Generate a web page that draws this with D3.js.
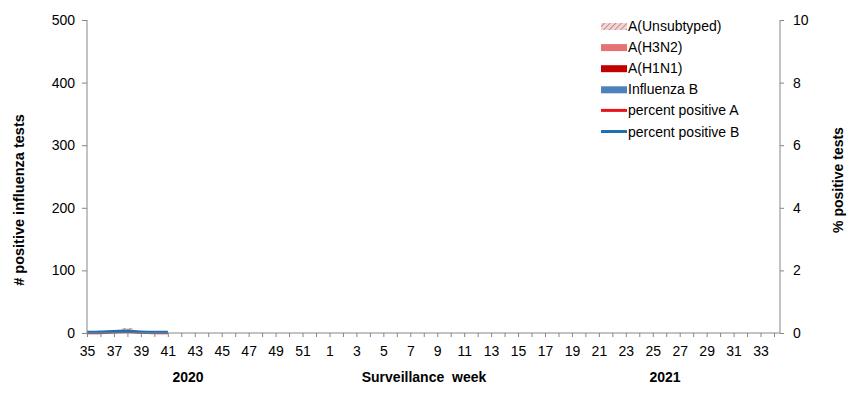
<!DOCTYPE html>
<html lang="en">
<head>
<meta charset="UTF-8">
<script src="https://d3js.org/d3.v7.min.js"></script>
<title>Influenza surveillance</title>
<style>
  body { margin: 0; background: #fff; }
  text { font-family: "Liberation Sans", Arial, sans-serif; fill: #000; }
  .axis path, .axis line { stroke: #868686; }
  .bold { font-weight: bold; }
</style>
</head>
<body>
<svg width="859" height="397"></svg>
<script>
// surveillance weeks 2020 w35 .. 2021 w34
var weeks = d3.range(35, 53).concat(d3.range(1, 35));
// counts per week (only first weeks reported)
var unsubtyped = [0, 0, 0, 8, 0, 0, 0];
var h3n2 = [0, 0, 0, 0, 0, 0, 0];
var h1n1 = [0, 0, 0, 0, 0, 0, 0];
var fluB = [0, 0, 0, 0, 0, 0, 0];
// percent positive
var pctA = [0.01, 0.01, 0.03, 0.05, 0.02, 0.01, 0.01];
var pctB = [0.02, 0.03, 0.05, 0.06, 0.03, 0.02, 0.02];
var leftTicks = [0, 100, 200, 300, 400, 500];
var rightTicks = [0, 2, 4, 6, 8, 10];

var series = [
  {name: "A(Unsubtyped)", values: unsubtyped, fill: "url(#hatch)"},
  {name: "A(H3N2)", values: h3n2, fill: "#e57373"},
  {name: "A(H1N1)", values: h1n1, fill: "#c00000"},
  {name: "Influenza B", values: fluB, fill: "#4f81bd"}
];
var lines = [
  {name: "percent positive A", values: pctA, color: "#e8141b"},
  {name: "percent positive B", values: pctB, color: "#1f6fb5"}
];

function main() {
  var svg = d3.select("svg");
  var left = 87, right = 780, top = 20, bottom = 333;

  var defs = svg.append("defs");
  var pat = defs.append("pattern").attr("id", "hatch")
      .attr("patternUnits", "userSpaceOnUse").attr("width", 4).attr("height", 4)
      .attr("patternTransform", "rotate(45)");
  pat.append("rect").attr("width", 4).attr("height", 4).attr("fill", "#f0d8d8");
  pat.append("line").attr("x1", 0).attr("y1", 0).attr("x2", 0).attr("y2", 4)
      .attr("stroke", "#c98585").attr("stroke-width", 2);

  var x = d3.scalePoint().domain(weeks).range([left, 774]);
  var step = x.step();
  var y = d3.scaleLinear().domain([0, 500]).range([bottom, top]);
  var y2 = d3.scaleLinear().domain([0, 10]).range([bottom, top]);

  // stacked bars
  var n = unsubtyped.length;
  var rows = d3.range(n).map(function(i) {
    var r = {week: weeks[i]};
    series.forEach(function(s) { r[s.name] = s.values[i]; });
    return r;
  });
  var stack = d3.stack().keys(series.map(function(s) { return s.name; }))(rows);
  var bw = step * 0.85;
  svg.selectAll(".layer").data(stack).enter().append("g")
      .attr("fill", function(d, i) { return series[i].fill; })
    .selectAll("rect").data(function(d) { return d; }).enter().append("rect")
      .attr("x", function(d) { return x(d.data.week) - bw / 2; })
      .attr("y", function(d) { return y(d[1]); })
      .attr("width", bw)
      .attr("height", function(d) { return y(d[0]) - y(d[1]); });

  // percent lines
  lines.forEach(function(l) {
    var line = d3.line()
        .x(function(d, i) { return x(weeks[i]); })
        .y(function(d) { return y2(d); })
        .curve(d3.curveMonotoneX);
    svg.append("path").datum(l.values)
        .attr("fill", "none").attr("stroke", l.color).attr("stroke-width", 3)
        .attr("d", line);
  });

  // left axis
  var gl = svg.append("g").attr("class", "axis")
      .attr("transform", "translate(" + left + ",0)")
      .call(d3.axisLeft(y).tickValues(leftTicks).tickSize(5).tickPadding(7));
  gl.select(".domain").attr("d", "M0," + top + "V" + bottom);
  gl.selectAll("text").attr("font-size", 14).attr("font-family", null);

  // right axis
  var gr = svg.append("g").attr("class", "axis")
      .attr("transform", "translate(" + right + ",0)")
      .call(d3.axisRight(y2).tickValues(rightTicks).tickSize(4).tickPadding(9));
  gr.select(".domain").attr("d", "M0," + top + "V" + bottom);
  gr.selectAll("text").attr("font-size", 14).attr("font-family", null);

  // bottom axis
  var gb = svg.append("g").attr("class", "axis")
      .attr("transform", "translate(0," + bottom + ")")
      .call(d3.axisBottom(x).tickSize(4).tickPadding(9)
        .tickFormat(function(d, i) { return i % 2 === 0 ? d : ""; }));
  gb.select(".domain").attr("d", "M" + left + ",0H" + right);
  gb.selectAll("text").attr("font-size", 14).attr("font-family", null);

  // axis titles
  svg.append("text").attr("class", "bold").attr("font-size", 14)
      .attr("x", 188).attr("y", 382).attr("text-anchor", "middle").text("2020");
  svg.append("text").attr("class", "bold").attr("font-size", 14)
      .attr("x", 424).attr("y", 382).attr("text-anchor", "middle").text("Surveillance\u00a0 week");
  svg.append("text").attr("class", "bold").attr("font-size", 14)
      .attr("x", 665).attr("y", 382).attr("text-anchor", "middle").text("2021");
  svg.append("text").attr("class", "bold").attr("font-size", 14.5)
      .attr("transform", "translate(24,200) rotate(-90)")
      .attr("text-anchor", "middle").text("# positive influenza tests");
  svg.append("text").attr("class", "bold").attr("font-size", 14)
      .attr("transform", "translate(843,180) rotate(-90)")
      .attr("text-anchor", "middle").text("% positive tests");

  // legend
  var lg = svg.append("g").attr("transform", "translate(601,26)");
  var items = series.map(function(s) { return {name: s.name, fill: s.fill, type: "bar"}; })
      .concat(lines.map(function(l) { return {name: l.name, fill: l.color, type: "line"}; }));
  var it = lg.selectAll("g").data(items).enter().append("g")
      .attr("transform", function(d, i) { return "translate(0," + (i * 21.1) + ")"; });
  it.filter(function(d) { return d.type === "bar"; }).append("rect")
      .attr("x", 0).attr("y", -3).attr("width", 26).attr("height", 7)
      .attr("fill", function(d) { return d.fill; });
  it.filter(function(d) { return d.type === "line"; }).append("line")
      .attr("x1", 0).attr("x2", 26).attr("y1", 0).attr("y2", 0)
      .attr("stroke", function(d) { return d.fill; }).attr("stroke-width", 3);
  it.append("text").attr("x", 27).attr("y", 5).attr("font-size", 14)
      .text(function(d) { return d.name; });
}
main();
</script>
</body>
</html>
